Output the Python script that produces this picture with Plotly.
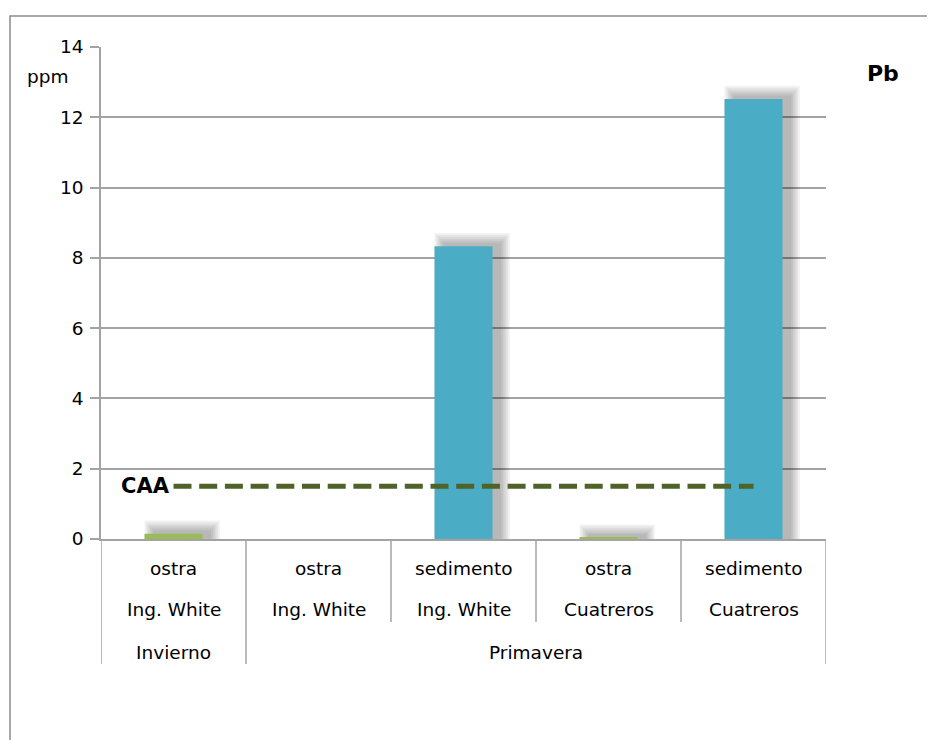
import plotly.graph_objects as go

# ---- data ----
seasons = ["Invierno", "Primavera", "Primavera", "Primavera", "Primavera"]
sample_types = ["ostra", "ostra", "sedimento", "ostra", "sedimento"]
sites = ["Ing. White", "Ing. White", "Ing. White", "Cuatreros", "Cuatreros"]
pb_ppm = [0.15, None, 8.33, 0.04, 12.52]
caa_limit = 1.5
y_ticks = [0, 2, 4, 6, 8, 10, 12, 14]

# ---- styling ----
FONT = "DejaVu Sans"
FS = 18.5
GRID = "#A3A3A3"
GREEN = "#9BBB59"
BLUE = "#4BACC6"
CAA_COLOR = "#4F6228"
type_colors = {"ostra": GREEN, "sedimento": BLUE}

categories = [f"{a}|{b}|{c}" for a, b, c in zip(seasons, sample_types, sites)]
colors = [type_colors[t] for t in sample_types]

OFF = 8  # page body margin
W, H = 927, 732
L, R, T, B = 93, 109, 39, 201
PW, PH = W - L - R, H - T - B


def px_x(px):
    return (px - OFF - L) / PW


def px_y(py):
    return (H - B - (py - OFF)) / PH


fig = go.Figure()

BAR_W = 0.4
# soft shadow layers (offset up-right)
n_layers = 6
for k in range(n_layers):
    w = BAR_W + 2 * k * 0.012
    sh_vals = [None if v is None else v + 0.1 + k * 0.055 for v in pb_ppm]
    fig.add_trace(go.Bar(
        x=categories, y=sh_vals,
        width=w, offset=-w / 2 + 0.06,
        marker=dict(color="rgba(0,0,0,0.05)", line=dict(width=0)),
        hoverinfo="skip", showlegend=False,
    ))

fig.add_trace(go.Bar(
    x=categories, y=pb_ppm,
    width=BAR_W, offset=-BAR_W / 2,
    marker=dict(color=colors, line=dict(width=0)),
    showlegend=False, name="Pb",
))

fig.add_trace(go.Scatter(
    x=[categories[0], categories[-1]], y=[caa_limit, caa_limit],
    mode="lines", line=dict(color=CAA_COLOR, width=5, dash="18px,7.7px"),
    showlegend=False, name="CAA",
))

shapes = []
# outer frame
shapes.append(dict(type="rect", xref="paper", yref="paper",
                   x0=px_x(10), x1=px_x(934), y0=px_y(760), y1=px_y(16),
                   line=dict(color="#8C8C8C", width=1.5), layer="below"))

# category dividers below the axis
n = len(categories)
for i in range(n + 1):
    if i == 0 or i == n or seasons[i] != seasons[i - 1]:
        bottom = px_y(664)
    else:
        bottom = px_y(622)
    shapes.append(dict(type="line", xref="x", yref="paper",
                       x0=i - 0.5, x1=i - 0.5, y0=0, y1=bottom,
                       line=dict(color=GRID, width=1.5)))

txt = dict(family=FONT, size=FS, color="#000")
annotations = []
row1, row2, row3 = px_y(568), px_y(609), px_y(652)
for i in range(n):
    annotations.append(dict(x=i, y=row1, xref="x", yref="paper", text=sample_types[i],
                            yanchor="middle", showarrow=False, font=txt))
    annotations.append(dict(x=i, y=row2, xref="x", yref="paper", text=sites[i],
                            yanchor="middle", showarrow=False, font=txt))
# season groups
groups = []
for i, s in enumerate(seasons):
    if groups and groups[-1][0] == s:
        groups[-1][2] = i
    else:
        groups.append([s, i, i])
for s, a, b in groups:
    annotations.append(dict(x=(a + b) / 2, y=row3, xref="x", yref="paper", text=s,
                            yanchor="middle", showarrow=False, font=txt))

annotations.append(dict(x=0, y=caa_limit, xref="x", yref="y", text="<b>CAA</b>",
                        xanchor="right", yanchor="middle", xshift=-2, showarrow=False,
                        font=dict(family=FONT, size=21, color="#000")))
annotations.append(dict(x=px_x(71), y=px_y(76), xref="paper", yref="paper", text="ppm",
                        xanchor="right", yanchor="middle", showarrow=False, font=txt))
annotations.append(dict(x=px_x(883), y=px_y(73), xref="paper", yref="paper", text="<b>Pb</b>",
                        xanchor="center", yanchor="middle", showarrow=False,
                        font=dict(family=FONT, size=22, color="#000")))

fig.update_layout(
    width=W, height=H,
    margin=dict(l=L, r=R, t=T, b=B, pad=0),
    paper_bgcolor="white", plot_bgcolor="white",
    barmode="overlay",
    font=txt,
    shapes=shapes, annotations=annotations,
    xaxis=dict(type="category", categoryorder="array", categoryarray=categories,
               range=[-0.5, n - 0.5], showticklabels=False, ticks="",
               showgrid=False, showline=True, linecolor=GRID, linewidth=1.5,
               zeroline=False, fixedrange=True),
    yaxis=dict(range=[0, 14], tickmode="array", tickvals=y_ticks,
               ticktext=[str(v) for v in y_ticks],
               showgrid=True, gridcolor=GRID, gridwidth=1.5,
               ticks="outside", ticklen=9, tickcolor=GRID, tickwidth=1.5,
               showline=True, linecolor=GRID, linewidth=1.5,
               zeroline=False, ticklabelstandoff=3,
               tickfont=txt),
)

fig.write_html("out.html")
